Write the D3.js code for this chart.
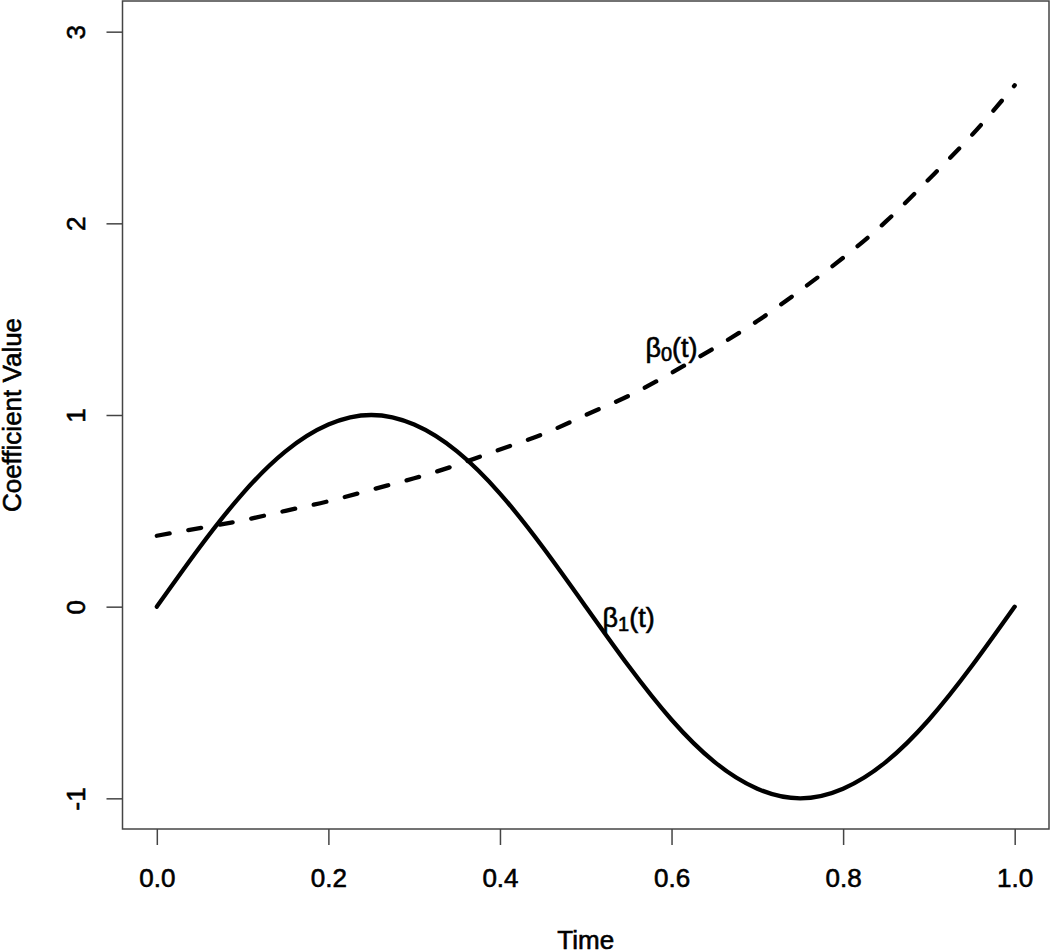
<!DOCTYPE html>
<meta charset="utf-8">
<title>Coefficient functions</title>
<script src="https://d3js.org/d3.v7.min.js"></script>
<style>
    body { margin: 0; background: #fff; }
    /* the reference text is rendered a little heavier than plain Arial */
    svg text { font-family: "Liberation Sans", Arial, sans-serif; fill: #000;
               stroke: #000; stroke-width: 0.6px; }
</style>
<body>
<div id="chart"></div>
<script>
    var times = [0, 0.05, 0.1, 0.15, 0.2, 0.25, 0.3, 0.35, 0.4, 0.45, 0.5,
                 0.55, 0.6, 0.65, 0.7, 0.75, 0.8, 0.85, 0.9, 0.95, 1];
    var beta0 = [0.37, 0.41, 0.45, 0.50, 0.55, 0.61, 0.67, 0.74, 0.82, 0.90, 1.00,
                 1.10, 1.22, 1.35, 1.49, 1.65, 1.82, 2.01, 2.23, 2.46, 2.72];
    var beta1 = [0, 0.31, 0.59, 0.81, 0.95, 1.00, 0.95, 0.81, 0.59, 0.31, 0,
                 -0.31, -0.59, -0.81, -0.95, -1.00, -0.95, -0.81, -0.59, -0.31, 0];
    var xTicks = [0, 0.2, 0.4, 0.6, 0.8, 1.0];
    var yTicks = [-1, 0, 1, 2, 3];
    // curve labels: name, subscript, time, value
    var labels = [
        {name: "β", sub: "0", t: 0.6, v: 1.35},
        {name: "β", sub: "1", t: 0.55, v: -0.06}
    ];

    var width = 1050, height = 952;
    var margin = {top: 1, right: 1, bottom: 123, left: 122.5};

    var svg = d3.select("#chart").append("svg")
        .attr("width", width)
        .attr("height", height);

    // R style 4% padding around x data, y limits -1..3
    var x = d3.scaleLinear()
        .domain([-0.04, 1.04])
        .range([margin.left, width - margin.right]);
    var y = d3.scaleLinear()
        .domain([-1.16, 3.16])
        .range([height - margin.bottom, margin.top]);

    var line = d3.line()
        .x(function(d) { return x(d[0]); })
        .y(function(d) { return y(d[1]); })
        .curve(d3.curveNatural);

    var b0 = times.map(function(t, i) { return [t, beta0[i]]; });
    var b1 = times.map(function(t, i) { return [t, beta1[i]]; });

    svg.append("path")
        .attr("d", line(b0))
        .attr("fill", "none")
        .attr("stroke", "#000")
        .attr("stroke-width", 4.3)
        .attr("stroke-linecap", "round")
        .attr("stroke-dasharray", "13,19");

    svg.append("path")
        .attr("d", line(b1))
        .attr("fill", "none")
        .attr("stroke", "#000")
        .attr("stroke-width", 4.3)
        .attr("stroke-linecap", "round");

    // labels
    labels.forEach(function(l) {
        var t = svg.append("text")
            .attr("x", x(l.t))
            .attr("y", y(l.v) + 9)
            .attr("text-anchor", "middle")
            .style("font-size", "27px");
        t.append("tspan").text(l.name);
        t.append("tspan").attr("dy", 4).style("font-size", "20px").text(l.sub);
        t.append("tspan").attr("dy", -4).text("(t)");
    });

    // axes
    var xAxis = svg.append("g")
        .attr("transform", "translate(0," + (height - margin.bottom) + ")")
        .call(d3.axisBottom(x).tickValues(xTicks).tickSize(16)
            .tickFormat(d3.format(".1f")));
    xAxis.select(".domain").remove();
    xAxis.selectAll("text")
        .attr("y", 58).attr("dy", null)
        .style("font-size", "26px");

    var yAxis = svg.append("g")
        .attr("transform", "translate(" + margin.left + ",0)")
        .call(d3.axisLeft(y).tickValues(yTicks).tickSize(16)
            .tickFormat(function(d) { return String(d); }));
    yAxis.select(".domain").remove();
    yAxis.selectAll("text")
        .attr("transform", "rotate(-90)")
        .attr("text-anchor", "middle")
        .attr("x", 0).attr("y", -38).attr("dy", null)
        .style("font-size", "26px");

    svg.selectAll(".tick line").attr("stroke", "#444").attr("stroke-width", 1.5);

    // box
    svg.append("rect")
        .attr("x", margin.left)
        .attr("y", margin.top)
        .attr("width", width - margin.left - margin.right)
        .attr("height", height - margin.top - margin.bottom)
        .attr("fill", "none")
        .attr("stroke", "#444")
        .attr("stroke-width", 1.5);

    // axis titles
    svg.append("text")
        .attr("x", (margin.left + width - margin.right) / 2)
        .attr("y", 949)
        .attr("text-anchor", "middle")
        .style("font-size", "26px")
        .text("Time");

    svg.append("text")
        .attr("transform", "translate(21," + ((margin.top + height - margin.bottom) / 2) + ") rotate(-90)")
        .attr("text-anchor", "middle")
        .style("font-size", "26px")
        .text("Coefficient Value");
</script>
</body>
